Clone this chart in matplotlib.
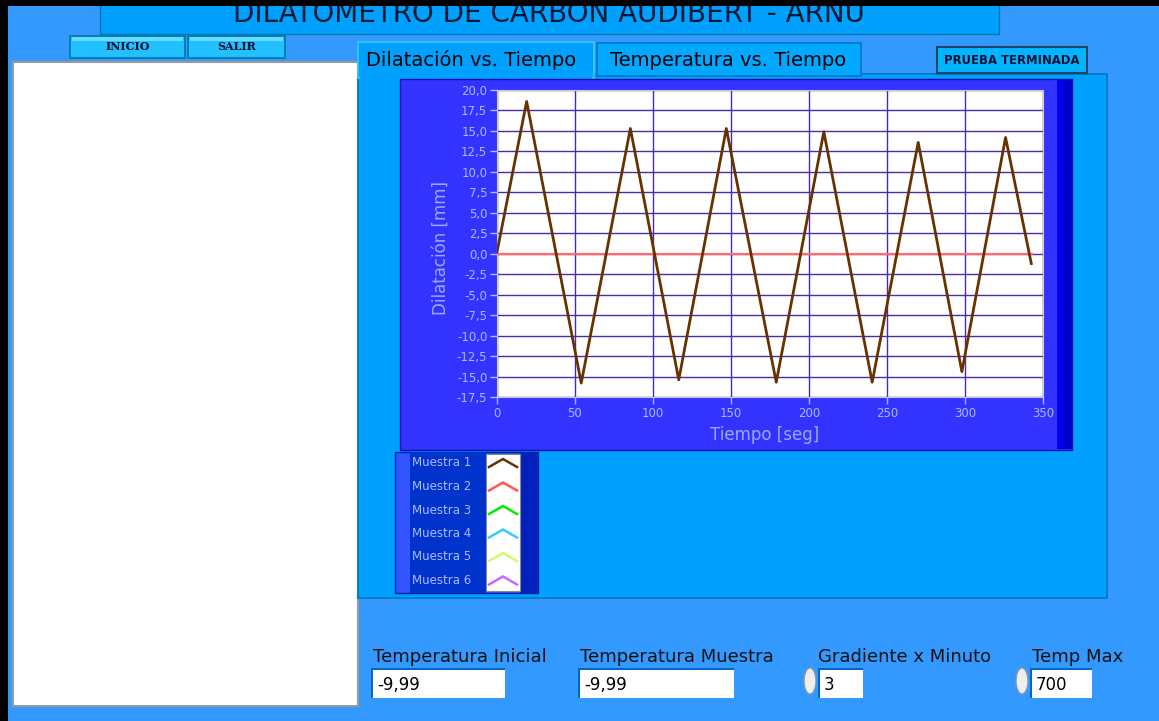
import matplotlib
matplotlib.use("Agg")
import matplotlib.pyplot as plt
from matplotlib.patches import Rectangle, Ellipse
from matplotlib.ticker import FuncFormatter

# --- data ---
tiempo = [0, 19, 54, 85.5, 116.5, 147, 179, 209.5, 240.5, 270, 298, 326, 342.5]
muestra1 = [0.2, 18.6, -15.8, 15.3, -15.4, 15.3, -15.7, 14.9, -15.7, 13.6, -14.4, 14.2, -1.2]
tiempo2 = [0, 343]
muestra2 = [0, 0]

series = ["Muestra 1", "Muestra 2", "Muestra 3", "Muestra 4", "Muestra 5", "Muestra 6"]
colores = ["#663300", "#ff5555", "#00ee00", "#33ccff", "#ccff66", "#cc66ff"]

xticks = [0, 50, 100, 150, 200, 250, 300, 350]
yticks = [-17.5, -15, -12.5, -10, -7.5, -5, -2.5, 0, 2.5, 5, 7.5, 10, 12.5, 15, 17.5, 20]

campos = ["Temperatura Inicial", "Temperatura Muestra", "Gradiente x Minuto", "Temp Max"]
valores = ["-9,99", "-9,99", "3", "700"]

titulo = "DILATOMETRO DE CARBON AUDIBERT - ARNU"
pestanas = ["Dilatación vs. Tiempo", "Temperatura vs. Tiempo"]

W, H = 1159, 721
plt.rcParams['font.family'] = ['DejaVu Sans']

fig = plt.figure(figsize=(W / 100, H / 100), dpi=100, facecolor='#3399ff')
bg = fig.add_axes([0, 0, 1, 1])
bg.set_xlim(0, W)
bg.set_ylim(H, 0)
bg.axis('off')


def caja(x, y, w, h, fc, ec='none', lw=1, z=1):
    bg.add_patch(Rectangle((x, y), w, h, facecolor=fc, edgecolor=ec, lw=lw, zorder=z))


# window border + title banner (text is cut at the top in the original)
caja(100, 3, 899, 31, '#00a0ff', '#0077aa', 1)
bg.text(549, 21.5, titulo, fontsize=20, ha='center', va='baseline', color='#001a33', zorder=2)
caja(0, 0, W, 6, 'black', z=5)
caja(0, 0, 8, H, 'black', z=5)

# buttons
for x, w, txt in [(70, 115, "INICIO"), (188, 97, "SALIR")]:
    caja(x, 36, w, 22, '#22c0ff', '#0077aa', 1.2)
    caja(x + 2, 37, w - 4, 4, '#66ddff', z=1.5)
    bg.text(x + w / 2, 47, txt, fontsize=8, fontweight='bold', ha='center', va='center',
            color='#001133', family='DejaVu Serif', zorder=2)

# left white box
caja(13, 62, 345, 644, 'white', '#9a9a9a', 1.5)

# tab panel and tabs
caja(358, 74, 749, 524, '#00a0ff', '#0077bb', 1.2)
caja(597, 43, 264, 33, '#00a8ff', '#0077bb', 1.2, z=1.1)
caja(358, 42, 236, 36, '#00a0ff', '#33ccff', 1.2, z=1.2)
caja(360, 76, 232, 6, '#00a0ff', z=1.3)
bg.text(471, 60, pestanas[0], fontsize=14, ha='center', va='center', color='black', zorder=2)
bg.text(728.5, 60, pestanas[1], fontsize=14, ha='center', va='center', color='black', zorder=2)

# status button
caja(937, 47, 150, 26, '#00b4ff', '#224466', 1.5)
bg.text(1012, 61, "PRUEBA TERMINADA", fontsize=8.4, fontweight='bold', ha='center', va='center',
        color='#001133', zorder=2)

# graph frame
caja(400, 79, 672, 371, '#3333ff', '#1111aa', 1, z=1.5)
caja(1057, 80, 6, 369, '#0000ee', z=1.6)
caja(1063, 80, 9, 369, '#0000cc', z=1.6)

# legend
caja(395, 452, 143, 141, '#3355ff', '#0022aa', 1, z=1.5)
caja(410, 452, 76, 141, '#0033cc', z=1.6)
caja(520, 452, 18, 141, '#0022bb', z=1.6)
caja(486, 454, 34, 137, 'white', '#888888', 0.8, z=1.7)
for i, (nombre, c) in enumerate(zip(series, colores)):
    yc = 463 + i * 23.5
    bg.text(412, yc, nombre, fontsize=8.5, color='#aabbff', ha='left', va='center', zorder=2)
    bg.plot([489, 503, 517], [yc + 4, yc - 4, yc + 4], color=c, lw=1.8, zorder=2,
            solid_joinstyle='miter')

# bottom controls
lab_x = [373, 580, 818, 1032]
box_x = [373, 580, 820, 1032]
box_w = [132, 154, 43, 60]
for lx, bx, bw, nombre, val in zip(lab_x, box_x, box_w, campos, valores):
    bg.text(lx, 662, nombre, fontsize=13, ha='left', va='baseline', color='#111111', zorder=2)
    caja(bx - 2, 668, bw + 2, 30, '#0066cc', z=1.5)
    caja(bx, 670, bw, 28, 'white', z=1.6)
    bg.text(bx + 4, 685, val, fontsize=12, ha='left', va='center', color='black', zorder=2)
for cx in [810, 1022]:
    bg.add_patch(Ellipse((cx, 681), 12, 26, facecolor='#eeeeee', edgecolor='#8899aa', lw=1, zorder=2))

# --- the chart ---
ax = fig.add_axes([497 / W, 1 - 397 / H, (1043 - 497) / W, (397 - 90) / H])
ax.set_facecolor('white')
ax.plot(tiempo2, muestra2, color='#ff6b6b', lw=1.6, zorder=3)
ax.plot(tiempo, muestra1, color='#663300', lw=2.0, zorder=4)
ax.set_xlim(0, 350)
ax.set_ylim(-17.5, 20)
ax.set_xticks(xticks)
ax.set_yticks(yticks)
ax.yaxis.set_major_formatter(FuncFormatter(lambda v, p: f"{v:.1f}".replace('.', ',')))
ax.grid(True, color='#4a2aaa', lw=1)
ax.set_axisbelow(True)
ax.tick_params(colors='#aabbff', labelsize=8.5, length=5, width=1, direction='out', pad=2)
for s in ax.spines.values():
    s.set_color('#c8c8c8')
ax.set_xlabel("Tiempo [seg]", color='#99aaff', fontsize=12)
ax.set_ylabel("Dilatación [mm]", color='#99aaff', fontsize=12)
ax.xaxis.set_label_coords(0.49, -0.094)
ax.yaxis.set_label_coords(-0.086, 0.485)

fig.savefig("out.png", dpi=100, facecolor=fig.get_facecolor())
